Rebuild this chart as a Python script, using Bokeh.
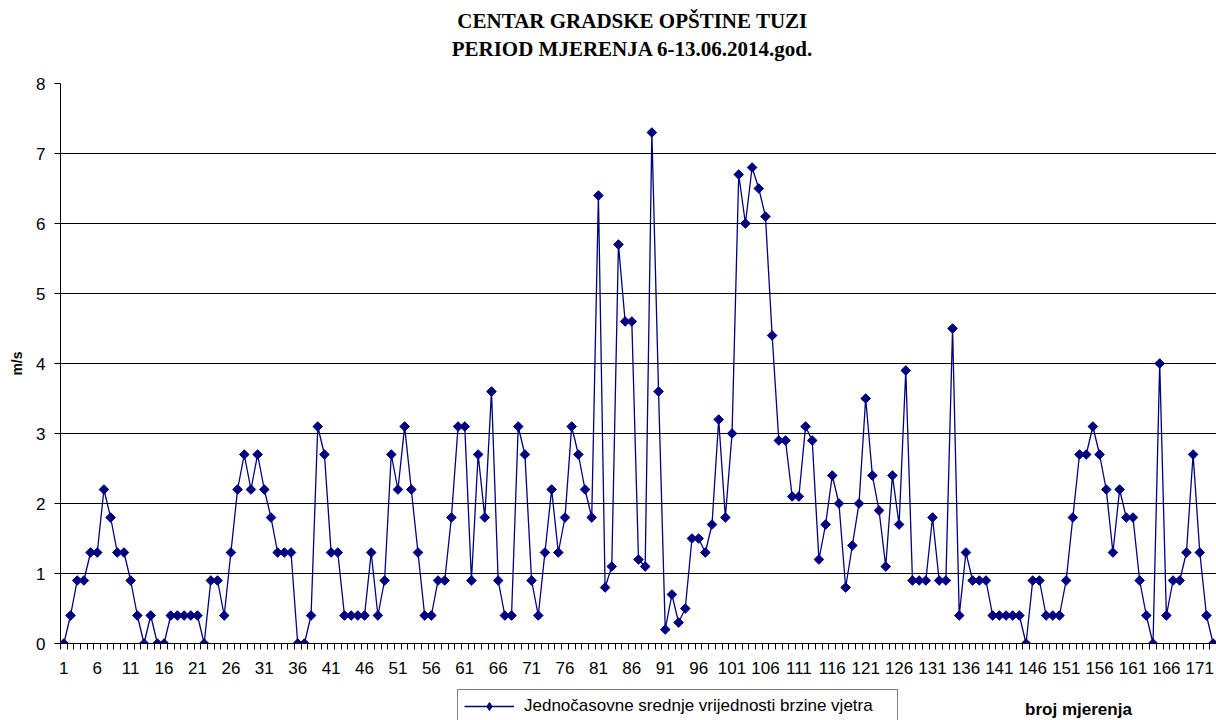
import math
from bokeh.plotting import figure
from bokeh.layouts import column
from bokeh.models import (Range1d, FixedTicker, Legend, LegendItem, Label,
                          ColumnDataSource)
from bokeh.embed import file_html
from bokeh.resources import INLINE

title_line1 = "CENTAR GRADSKE OPŠTINE TUZI"
title_line2 = "PERIOD MJERENJA 6-13.06.2014.god."
series_name = "Jednočasovne srednje vrijednosti brzine vjetra"
x_title = "broj mjerenja"
y_title = "m/s"

wind = [
    0, 0.4, 0.9, 0.9, 1.3, 1.3, 2.2, 1.8, 1.3, 1.3,
    0.9, 0.4, 0, 0.4, 0, 0, 0.4, 0.4, 0.4, 0.4,
    0.4, 0, 0.9, 0.9, 0.4, 1.3, 2.2, 2.7, 2.2, 2.7,
    2.2, 1.8, 1.3, 1.3, 1.3, 0, 0, 0.4, 3.1, 2.7,
    1.3, 1.3, 0.4, 0.4, 0.4, 0.4, 1.3, 0.4, 0.9, 2.7,
    2.2, 3.1, 2.2, 1.3, 0.4, 0.4, 0.9, 0.9, 1.8, 3.1,
    3.1, 0.9, 2.7, 1.8, 3.6, 0.9, 0.4, 0.4, 3.1, 2.7,
    0.9, 0.4, 1.3, 2.2, 1.3, 1.8, 3.1, 2.7, 2.2, 1.8,
    6.4, 0.8, 1.1, 5.7, 4.6, 4.6, 1.2, 1.1, 7.3, 3.6,
    0.2, 0.7, 0.3, 0.5, 1.5, 1.5, 1.3, 1.7, 3.2, 1.8,
    3.0, 6.7, 6.0, 6.8, 6.5, 6.1, 4.4, 2.9, 2.9, 2.1,
    2.1, 3.1, 2.9, 1.2, 1.7, 2.4, 2.0, 0.8, 1.4, 2.0,
    3.5, 2.4, 1.9, 1.1, 2.4, 1.7, 3.9, 0.9, 0.9, 0.9,
    1.8, 0.9, 0.9, 4.5, 0.4, 1.3, 0.9, 0.9, 0.9, 0.4,
    0.4, 0.4, 0.4, 0.4, 0, 0.9, 0.9, 0.4, 0.4, 0.4,
    0.9, 1.8, 2.7, 2.7, 3.1, 2.7, 2.2, 1.3, 2.2, 1.8,
    1.8, 0.9, 0.4, 0, 4.0, 0.4, 0.9, 0.9, 1.3, 2.7,
    1.3, 0.4, 0,
]
measurement = list(range(1, len(wind) + 1))
x_tick_values = list(range(1, len(wind) + 1, 5))
y_tick_values = [0, 1, 2, 3, 4, 5, 6, 7, 8]

n = len(wind)
navy = "#000080"
W = 1216
LEFT = 60  # frame left edge (column aligns all frames to this)


def bare(height, top, bottom):
    f = figure(width=W, height=height, output_backend="svg",
               toolbar_location=None, x_axis_type=None, y_axis_type=None,
               x_range=Range1d(LEFT, W), y_range=Range1d(bottom, top),
               min_border=0, min_border_left=LEFT, title=None)
    f.outline_line_color = None
    f.grid.visible = False
    return f


# ---- title strip (page y 0..72) ----
top = bare(72, 0, 72)
for txt, yy in [(title_line1, 20), (title_line2, 48)]:
    top.add_layout(Label(x=632, y=yy, text=txt, text_align="center",
                         text_baseline="middle", text_font="Liberation Serif",
                         text_font_style="bold", text_font_size="21px",
                         text_color="black"))

# ---- main chart (page y 72..680) ----
src = ColumnDataSource(dict(x=measurement, y=wind))
p = figure(width=W, height=608, output_backend="svg", toolbar_location=None,
           title=None,
           x_range=Range1d(0.5, n + 0.5), y_range=Range1d(0, 8),
           min_border_left=LEFT, min_border_right=0, min_border_top=11,
           min_border_bottom=37)
p.outline_line_color = None

p.line("x", "y", source=src, line_color=navy, line_width=1.3)
p.scatter("x", "y", source=src, marker="square", angle=math.pi / 4, size=6.8,
          fill_color=navy, line_color=navy)

p.xaxis.ticker = FixedTicker(ticks=x_tick_values,
                             minor_ticks=[i + 0.5 for i in range(0, n + 1)])
p.xaxis.major_tick_line_color = None
p.xaxis.major_tick_out = 0
p.xaxis.major_tick_in = 0
p.xaxis.minor_tick_line_color = "black"
p.xaxis.minor_tick_out = 6
p.xaxis.minor_tick_in = 0
p.xaxis.axis_line_color = "black"
p.xaxis.major_label_text_font = "Liberation Sans"
p.xaxis.major_label_text_font_size = "17px"
p.xaxis.major_label_text_color = "black"
p.xaxis.major_label_standoff = 12

p.yaxis.ticker = FixedTicker(ticks=y_tick_values)
p.yaxis.minor_tick_line_color = None
p.yaxis.major_tick_out = 6
p.yaxis.major_tick_in = 0
p.yaxis.major_tick_line_color = "black"
p.yaxis.axis_line_color = "black"
p.yaxis.major_label_text_font = "Liberation Sans"
p.yaxis.major_label_text_font_size = "17px"
p.yaxis.major_label_text_color = "black"
p.yaxis.major_label_standoff = 9
p.yaxis.axis_label = y_title
p.yaxis.axis_label_text_font = "Liberation Sans"
p.yaxis.axis_label_text_font_style = "bold"
p.yaxis.axis_label_text_font_size = "14px"
p.yaxis.axis_label_text_color = "black"
p.yaxis.axis_label_standoff = 8

p.xgrid.grid_line_color = None
p.ygrid.grid_line_color = "black"
p.ygrid.grid_line_width = 1
p.ygrid.ticker = FixedTicker(ticks=y_tick_values)

# ---- legend strip (page y 680..720) ----
bot = bare(40, 680, 720)
dummy = ColumnDataSource(dict(x=[float("nan")], y=[float("nan")]))
gl = bot.line("x", "y", source=dummy, line_color=navy, line_width=1.3)
gs = bot.scatter("x", "y", source=dummy, marker="diamond", size=10,
                 fill_color=navy, line_color=navy)
legend = Legend(items=[LegendItem(label=series_name, renderers=[gl, gs])],
                location=(457 - LEFT, -3), orientation="horizontal",
                border_line_color="black", border_line_width=1,
                background_fill_color="white", background_fill_alpha=1,
                label_text_font="Liberation Sans", label_text_font_size="17px",
                label_text_color="black",
                glyph_width=50, label_standoff=10, padding=6, margin=0,
                label_width=367)
bot.add_layout(legend, "center")
bot.add_layout(Label(x=1078, y=709, text=x_title, text_align="center",
                     text_baseline="middle", text_font="Liberation Sans",
                     text_font_style="bold", text_font_size="17px",
                     text_color="black"))

layout = column(top, p, bot, spacing=0)
open("out.html", "w").write(file_html(layout, INLINE))
